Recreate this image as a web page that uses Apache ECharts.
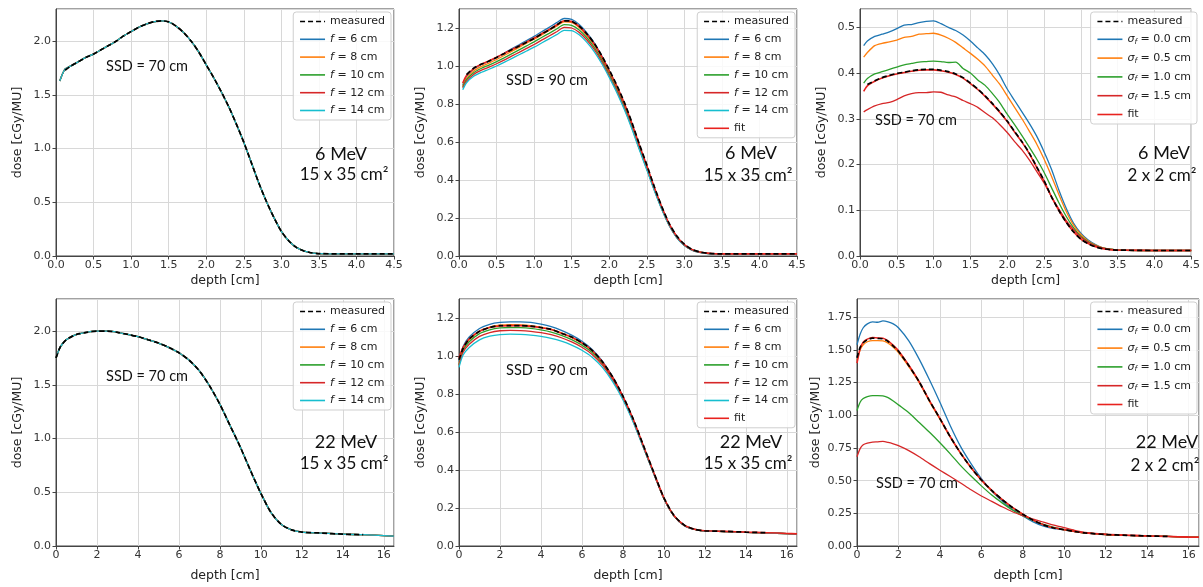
<!DOCTYPE html>
<html><head><meta charset="utf-8">
<script src="https://cdn.jsdelivr.net/npm/echarts@6/dist/echarts.min.js"></script>
<style>html,body{margin:0;padding:0;background:#fff}#c{width:1203px;height:587px}</style>
</head><body><div id="c"></div>
<script>
// ---------- DATA ----------
// Panel 1: 6 MeV, 15x35 cm2, SSD 70
const x1 = [0.05,0.12,0.2,0.3,0.4,0.5,0.6,0.7,0.8,0.9,1.0,1.1,1.2,1.3,1.4,1.5,1.6,1.7,1.8,1.9,2.0,2.1,2.2,2.3,2.4,2.5,2.6,2.7,2.8,2.9,3.0,3.1,3.2,3.3,3.4,3.5,4.0,4.5];
const calc1 = [1.63,1.74,1.77,1.81,1.85,1.88,1.92,1.96,2.0,2.05,2.09,2.13,2.16,2.18,2.19,2.18,2.14,2.08,2.0,1.9,1.78,1.66,1.53,1.39,1.23,1.06,0.87,0.68,0.51,0.36,0.23,0.14,0.08,0.047,0.03,0.022,0.02,0.02];
const meas1 = [null,1.73,1.77,1.81,1.85,1.88,1.92,1.96,2.0,2.05,2.09,2.13,2.16,2.18,2.19,2.18,2.14,2.08,2.0,1.9,1.78,1.66,1.53,1.39,1.23,1.06,0.87,0.68,0.51,0.36,0.23,0.14,0.08,0.047,0.03,0.022,0.02,0.02];

// Panel 2: 6 MeV, 15x35 cm2, SSD 90
const x2 = [0.05,0.1,0.2,0.3,0.4,0.5,0.6,0.7,0.8,0.9,1.0,1.1,1.2,1.3,1.4,1.5,1.6,1.7,1.8,1.9,2.0,2.1,2.2,2.3,2.4,2.5,2.6,2.7,2.8,2.9,3.0,3.1,3.2,3.3,3.4,3.5,4.0,4.5];
const meas2 = [null,0.955,0.99,1.01,1.026,1.045,1.065,1.085,1.105,1.125,1.145,1.168,1.19,1.215,1.238,1.235,1.21,1.17,1.12,1.055,0.98,0.9,0.81,0.705,0.59,0.48,0.365,0.26,0.17,0.105,0.062,0.035,0.022,0.015,0.012,0.011,0.011,0.011];
const f6_2 = [0.9,0.945,0.985,1.008,1.025,1.045,1.067,1.09,1.112,1.134,1.156,1.18,1.203,1.228,1.25,1.245,1.218,1.175,1.122,1.053,0.975,0.893,0.8,0.695,0.58,0.47,0.357,0.253,0.165,0.1,0.058,0.033,0.02,0.014,0.012,0.011,0.011,0.011];
const f8_2 = [0.895,0.935,0.975,0.998,1.015,1.034,1.055,1.077,1.098,1.12,1.141,1.164,1.187,1.21,1.233,1.229,1.203,1.162,1.11,1.043,0.966,0.885,0.793,0.689,0.575,0.466,0.354,0.251,0.163,0.099,0.057,0.032,0.02,0.014,0.012,0.011,0.011,0.011];
const f10_2 = [0.89,0.928,0.966,0.988,1.005,1.023,1.043,1.064,1.085,1.106,1.127,1.15,1.172,1.195,1.218,1.214,1.19,1.15,1.098,1.033,0.957,0.877,0.786,0.683,0.57,0.462,0.351,0.249,0.162,0.098,0.057,0.032,0.02,0.014,0.012,0.011,0.011,0.011];
const f12_2 = [0.885,0.92,0.957,0.978,0.994,1.012,1.031,1.052,1.072,1.093,1.113,1.136,1.158,1.18,1.203,1.2,1.177,1.138,1.087,1.023,0.948,0.869,0.779,0.677,0.565,0.458,0.348,0.247,0.16,0.097,0.056,0.031,0.019,0.014,0.012,0.011,0.011,0.011];
const f14_2 = [0.875,0.912,0.947,0.967,0.983,1.0,1.019,1.039,1.059,1.079,1.099,1.121,1.143,1.165,1.188,1.186,1.164,1.126,1.076,1.013,0.94,0.861,0.772,0.671,0.56,0.454,0.345,0.245,0.159,0.096,0.055,0.031,0.019,0.013,0.011,0.011,0.011,0.011];
const fit2 = [0.91,0.95,0.988,1.01,1.027,1.046,1.066,1.086,1.106,1.127,1.147,1.17,1.192,1.216,1.238,1.234,1.208,1.167,1.116,1.05,0.975,0.895,0.805,0.7,0.585,0.476,0.362,0.258,0.168,0.103,0.06,0.034,0.021,0.015,0.012,0.011,0.011,0.011];

// Panel 3: 6 MeV, 2x2 cm2, SSD 70
const x3 = x2;
const meas3 = [null,0.375,0.383,0.39,0.395,0.399,0.402,0.405,0.407,0.408,0.408,0.406,0.403,0.398,0.39,0.378,0.365,0.35,0.333,0.315,0.295,0.272,0.25,0.225,0.195,0.165,0.13,0.1,0.074,0.053,0.037,0.027,0.02,0.016,0.014,0.013,0.012,0.012];
const s00_3 = [0.46,0.47,0.48,0.485,0.49,0.497,0.505,0.506,0.51,0.513,0.514,0.508,0.5,0.493,0.483,0.47,0.455,0.44,0.42,0.395,0.365,0.34,0.315,0.29,0.262,0.228,0.19,0.145,0.105,0.072,0.05,0.035,0.025,0.018,0.015,0.013,0.012,0.012];
const s05_3 = [0.435,0.445,0.46,0.465,0.468,0.472,0.478,0.48,0.485,0.486,0.487,0.483,0.476,0.467,0.455,0.443,0.43,0.415,0.395,0.375,0.35,0.325,0.3,0.273,0.245,0.212,0.175,0.135,0.098,0.068,0.047,0.033,0.024,0.018,0.015,0.013,0.012,0.012];
const s10_3 = [0.378,0.388,0.398,0.403,0.408,0.413,0.418,0.421,0.424,0.425,0.426,0.425,0.423,0.424,0.41,0.4,0.385,0.373,0.355,0.335,0.31,0.287,0.263,0.238,0.212,0.183,0.15,0.117,0.087,0.062,0.043,0.031,0.023,0.017,0.015,0.013,0.012,0.012];
const s15_3 = [0.315,0.32,0.328,0.333,0.336,0.342,0.35,0.355,0.357,0.357,0.359,0.358,0.352,0.348,0.34,0.333,0.325,0.313,0.302,0.287,0.27,0.25,0.232,0.21,0.185,0.16,0.13,0.103,0.078,0.058,0.041,0.03,0.022,0.017,0.014,0.013,0.012,0.012];
const fit3 = [0.36,0.372,0.382,0.389,0.394,0.398,0.401,0.404,0.406,0.407,0.407,0.405,0.402,0.397,0.389,0.377,0.364,0.349,0.332,0.314,0.294,0.271,0.249,0.224,0.194,0.164,0.13,0.1,0.074,0.053,0.037,0.027,0.02,0.016,0.014,0.013,0.012,0.012];

// Panel 4: 22 MeV, 15x35 cm2, SSD 70
const x4 = [0,0.2,0.5,1,1.5,2,2.5,3,3.5,4,4.5,5,5.5,6,6.5,7,7.5,8,8.5,9,9.5,10,10.5,11,11.5,12,13,14,15,16,16.5];
const calc4 = [1.75,1.85,1.92,1.97,1.99,2.0,2.0,1.99,1.97,1.95,1.92,1.89,1.85,1.8,1.73,1.63,1.49,1.32,1.12,0.92,0.7,0.49,0.31,0.2,0.15,0.13,0.12,0.11,0.105,0.097,0.092];
const meas4 = [1.75,1.85,1.92,1.97,1.99,2.0,2.0,1.99,1.97,1.95,1.92,1.89,1.85,1.8,1.73,1.63,1.49,1.32,1.12,0.92,0.7,0.49,0.31,0.2,0.15,0.13,0.12,0.11,0.105,null,null];

// Panel 5: 22 MeV, 15x35 cm2, SSD 90
const x5 = x4;
const meas5 = [0.98,1.04,1.09,1.13,1.15,1.16,1.16,1.16,1.157,1.15,1.14,1.12,1.1,1.07,1.03,0.97,0.89,0.79,0.67,0.53,0.39,0.255,0.16,0.11,0.088,0.08,0.077,0.073,0.07,null,null];
const f6_5 = [0.97,1.05,1.1,1.145,1.167,1.177,1.18,1.18,1.177,1.168,1.155,1.135,1.11,1.078,1.035,0.973,0.89,0.787,0.665,0.525,0.385,0.252,0.158,0.108,0.087,0.079,0.076,0.072,0.069,0.065,0.063];
const f8_5 = [0.96,1.04,1.085,1.13,1.152,1.162,1.165,1.164,1.16,1.152,1.14,1.122,1.098,1.068,1.027,0.967,0.885,0.784,0.663,0.524,0.385,0.252,0.158,0.108,0.087,0.079,0.076,0.072,0.069,0.065,0.063];
const f10_5 = [0.955,1.03,1.075,1.118,1.138,1.148,1.15,1.149,1.145,1.137,1.126,1.109,1.086,1.057,1.018,0.96,0.88,0.78,0.66,0.522,0.384,0.251,0.157,0.108,0.087,0.079,0.076,0.072,0.069,0.065,0.063];
const f12_5 = [0.95,1.02,1.062,1.103,1.123,1.133,1.135,1.134,1.13,1.123,1.112,1.096,1.074,1.046,1.008,0.952,0.874,0.776,0.657,0.52,0.383,0.25,0.157,0.107,0.087,0.079,0.076,0.072,0.069,0.065,0.063];
const f14_5 = [0.94,1.005,1.045,1.085,1.104,1.113,1.115,1.114,1.11,1.103,1.093,1.078,1.057,1.03,0.994,0.94,0.865,0.77,0.653,0.518,0.382,0.25,0.157,0.107,0.087,0.079,0.076,0.072,0.069,0.065,0.063];
const fit5 = [0.99,1.045,1.09,1.13,1.15,1.158,1.16,1.16,1.156,1.149,1.139,1.12,1.099,1.069,1.029,0.969,0.888,0.788,0.668,0.528,0.388,0.254,0.159,0.109,0.088,0.08,0.077,0.073,0.07,0.066,0.064];

// Panel 6: 22 MeV, 2x2 cm2, SSD 70
const x6 = [0,0.15,0.3,0.5,0.75,1,1.25,1.5,1.75,2,2.5,3,3.5,4,4.5,5,5.5,6,6.5,7,7.5,8,8.5,9,9.5,10,10.5,11,12,13,14,15,16,16.5];
const meas6 = [1.44,1.52,1.555,1.578,1.59,1.588,1.585,1.565,1.53,1.49,1.38,1.256,1.11,0.975,0.835,0.71,0.6,0.505,0.425,0.355,0.295,0.243,0.197,0.162,0.138,0.124,0.111,0.1,0.088,0.082,0.077,0.073,null,null];
const s00_6 = [1.54,1.62,1.67,1.7,1.715,1.712,1.722,1.715,1.7,1.67,1.57,1.43,1.27,1.1,0.92,0.76,0.63,0.515,0.42,0.345,0.28,0.23,0.185,0.152,0.134,0.124,0.111,0.1,0.088,0.082,0.077,0.073,0.068,0.067];
const s05_6 = [1.42,1.5,1.54,1.563,1.572,1.572,1.57,1.552,1.52,1.48,1.372,1.25,1.105,0.97,0.832,0.708,0.598,0.503,0.423,0.353,0.293,0.242,0.197,0.162,0.138,0.124,0.111,0.1,0.088,0.082,0.077,0.073,0.068,0.067];
const s10_6 = [1.037,1.1,1.128,1.143,1.151,1.151,1.148,1.135,1.11,1.08,1.02,0.945,0.87,0.79,0.705,0.615,0.535,0.46,0.39,0.33,0.275,0.232,0.195,0.165,0.142,0.126,0.112,0.1,0.088,0.082,0.077,0.073,0.068,0.067];
const s15_6 = [0.683,0.745,0.775,0.787,0.795,0.797,0.8,0.793,0.782,0.768,0.73,0.683,0.63,0.58,0.532,0.482,0.43,0.383,0.342,0.3,0.262,0.232,0.205,0.183,0.16,0.14,0.12,0.105,0.09,0.083,0.078,0.073,0.069,0.068];
const fit6 = [1.4,1.51,1.56,1.583,1.595,1.592,1.59,1.57,1.535,1.494,1.383,1.258,1.112,0.976,0.836,0.711,0.601,0.506,0.426,0.356,0.296,0.244,0.198,0.163,0.139,0.125,0.112,0.1,0.088,0.082,0.077,0.073,0.068,0.067];

// Axis ranges / ticks
const xMax = [4.5,4.5,4.5,16.5,16.5,16.5];
const xStep = [0.5,0.5,0.5,2,2,2];
const yMax = [2.3,1.3,0.54,2.3,1.3,1.89];
const yStep = [0.5,0.2,0.1,0.5,0.2,0.25];
const yDec = [1,1,1,1,1,2];

// Legend names
const fNames = ['f = 6 cm','f = 8 cm','f = 10 cm','f = 12 cm','f = 14 cm'];
const sNames = ['σf = 0.0 cm','σf = 0.5 cm','σf = 1.0 cm','σf = 1.5 cm'];

// Annotation texts
const ssdText = ['SSD = 70 cm','SSD = 90 cm','SSD = 70 cm','SSD = 70 cm','SSD = 90 cm','SSD = 70 cm'];
const energyText = ['6 MeV','6 MeV','6 MeV','22 MeV','22 MeV','22 MeV'];
const fieldText = ['15 x 35 cm²','15 x 35 cm²','2 x 2 cm²','15 x 35 cm²','15 x 35 cm²','2 x 2 cm²'];

// ---------- STYLE / LAYOUT ----------
const COL = {blue:'#1f77b4', orange:'#ff7f0e', green:'#2ca02c', red:'#d62728', cyan:'#17becf', fit:'#e8221e'};
const fCols = [COL.blue, COL.orange, COL.green, COL.red, COL.cyan];
const grids = [
  {left:56, top:9, width:338, height:247},
  {left:459, top:9, width:338, height:247},
  {left:860, top:9, width:339, height:247},
  {left:56, top:299, width:338, height:247},
  {left:459, top:299, width:338, height:247},
  {left:857, top:299, width:342, height:247}
];
const yNameGap = [32,32,32,32,32,35];
const xNameGap = [18,18,18,23,23,23];

function pts(xs, ys){ const out=[]; xs.forEach((x,i)=>{ if(ys[i]!=null) out.push([x,ys[i]]); }); return out; }
function ln(name, xs, ys, gi, color, width, z, dashed){
  return {type:'line', name, xAxisIndex:gi, yAxisIndex:gi, data:pts(xs,ys), symbol:'none', showSymbol:false,
    smooth:0.25, z, animation:false, silent:true,
    lineStyle:{color, width, type: dashed ? [5,3] : 'solid'}, itemStyle:{color}};
}

const series = [];
// Panel 1
fNames.forEach((n,i)=>series.push(ln(n, x1, calc1, 0, fCols[i], 1.3, 2)));
series.push(ln('measured', x1, meas1, 0, '#000', 1.7, 5, true));
// Panel 2
[f6_2,f8_2,f10_2,f12_2,f14_2].forEach((d,i)=>series.push(ln(fNames[i], x2, d, 1, fCols[i], 1.3, 2)));
series.push(ln('fit', x2, fit2, 1, COL.fit, 1.6, 3));
series.push(ln('measured', x2, meas2, 1, '#000', 1.7, 5, true));
// Panel 3
[s00_3,s05_3,s10_3,s15_3].forEach((d,i)=>series.push(ln(sNames[i], x3, d, 2, fCols[i], 1.3, 2)));
series.push(ln('fit', x3, fit3, 2, COL.fit, 1.6, 3));
series.push(ln('measured', x3, meas3, 2, '#000', 1.7, 5, true));
// Panel 4
fNames.forEach((n,i)=>series.push(ln(n, x4, calc4, 3, fCols[i], 1.3, 2)));
series.push(ln('measured', x4, meas4, 3, '#000', 1.7, 5, true));
// Panel 5
[f6_5,f8_5,f10_5,f12_5,f14_5].forEach((d,i)=>series.push(ln(fNames[i], x5, d, 4, fCols[i], 1.3, 2)));
series.push(ln('fit', x5, fit5, 4, COL.fit, 1.6, 3));
series.push(ln('measured', x5, meas5, 4, '#000', 1.7, 5, true));
// Panel 6
[s00_6,s05_6,s10_6,s15_6].forEach((d,i)=>series.push(ln(sNames[i], x6, d, 5, fCols[i], 1.3, 2)));
series.push(ln('fit', x6, fit6, 5, COL.fit, 1.6, 3));
series.push(ln('measured', x6, meas6, 5, '#000', 1.7, 5, true));

const FONT = 'DejaVu Sans';
const xAxes = grids.map((g,i)=>({
  type:'value', gridIndex:i, min:0, max:xMax[i], interval:xStep[i],
  name:'depth [cm]', nameLocation:'middle', nameGap:xNameGap[i],
  nameTextStyle:{fontFamily:FONT, fontSize:12.5, color:'#222'},
  axisLine:{show:true, onZero:false, lineStyle:{color:'#444', width:1}},
  axisTick:{show:true, length:3.5, lineStyle:{color:'#444'}},
  axisLabel:{fontFamily:FONT, fontSize:11, color:'#333', margin:4, showMaxLabel: xMax[i] % xStep[i] === 0,
    formatter: v => xStep[i] < 1 ? v.toFixed(1) : String(Math.round(v))},
  splitLine:{show:true, lineStyle:{color:'#d8d8d8', width:1}}
}));
const yAxes = grids.map((g,i)=>({
  type:'value', gridIndex:i, min:0, max:yMax[i], interval:yStep[i],
  name:'dose [cGy/MU]', nameLocation:'middle', nameGap:yNameGap[i],
  nameTextStyle:{fontFamily:FONT, fontSize:12.5, color:'#222'},
  axisLine:{show:true, lineStyle:{color:'#444', width:1}},
  axisTick:{show:true, length:3.5, lineStyle:{color:'#444'}},
  axisLabel:{fontFamily:FONT, fontSize:11, color:'#333', margin:5, showMaxLabel:false,
    formatter: v => v.toFixed(yDec[i])},
  splitLine:{show:true, lineStyle:{color:'#d8d8d8', width:1}}
}));

function legendFmt(n){
  if (n.startsWith('σf')) return '{i|σ}{s|f}' + n.slice(2);
  if (n.startsWith('f =')) return '{i|f}' + n.slice(1);
  return n;
}
const legendPos = [
  {right:812, top:12}, {right:408, top:12}, {right:6, top:12},
  {right:812, top:302}, {right:408, top:302}, {right:6, top:302}
];
const legendData = [
  ['measured'].concat(fNames),
  ['measured'].concat(fNames, ['fit']),
  ['measured'].concat(sNames, ['fit']),
  ['measured'].concat(fNames),
  ['measured'].concat(fNames, ['fit']),
  ['measured'].concat(sNames, ['fit'])
];
const legends = legendData.map((d,i)=>Object.assign({
  data:d, orient:'vertical', itemWidth:25, itemHeight:10, itemGap:6.8,
  backgroundColor:'rgba(255,255,255,0.85)', borderColor:'#cfcfcf', borderWidth:1, borderRadius:3,
  padding:[4,6,4,6], selectedMode:false, formatter:legendFmt,
  itemStyle:{opacity:0},
  lineStyle:{width:1.6},
  textStyle:{fontFamily:FONT, fontSize:11, color:'#222',
    rich:{i:{fontFamily:FONT, fontSize:11, fontStyle:'italic', color:'#222'},
          s:{fontFamily:FONT, fontSize:7.5, fontStyle:'italic', color:'#222', padding:[5,0,0,0]}}}
}, legendPos[i]));

// annotation positions (pixel layout)
const ssdPos = [[147,66],[547,80],[916,120],[147,376],[547,370],[917,483]];
const ePos = [[341,154],[751,153],[1164,153],[346,442],[751,442],[1167,442]];
const fPos = [[344,175],[748,176],[1162,176],[344,464],[748,464],[1165,466]];
const ANN = 'Lato';
const graphic = [];
for (let i=0;i<6;i++){
  graphic.push({type:'text', x:ssdPos[i][0], y:ssdPos[i][1], z:50,
    style:{text:ssdText[i], font:'14.5px '+ANN, fill:'#111', textAlign:'center', textVerticalAlign:'middle'}});
  graphic.push({type:'text', x:ePos[i][0], y:ePos[i][1], z:50,
    style:{text:energyText[i], font:'18px '+ANN, fill:'#111', textAlign:'center', textVerticalAlign:'middle'}});
  graphic.push({type:'text', x:fPos[i][0], y:fPos[i][1], z:50,
    style:{text:fieldText[i], font:'17px '+ANN, fill:'#111', textAlign:'center', textVerticalAlign:'middle'}});
}

const chart = echarts.init(document.getElementById('c'), null, {renderer:'canvas'});
chart.setOption({
  animation:false,
  backgroundColor:'#fff',
  grid: grids.map(g=>Object.assign({show:true, borderColor:'#444', borderWidth:1, backgroundColor:'transparent'}, g)),
  xAxis:xAxes, yAxis:yAxes, legend:legends, series, graphic
});
</script></body></html>
